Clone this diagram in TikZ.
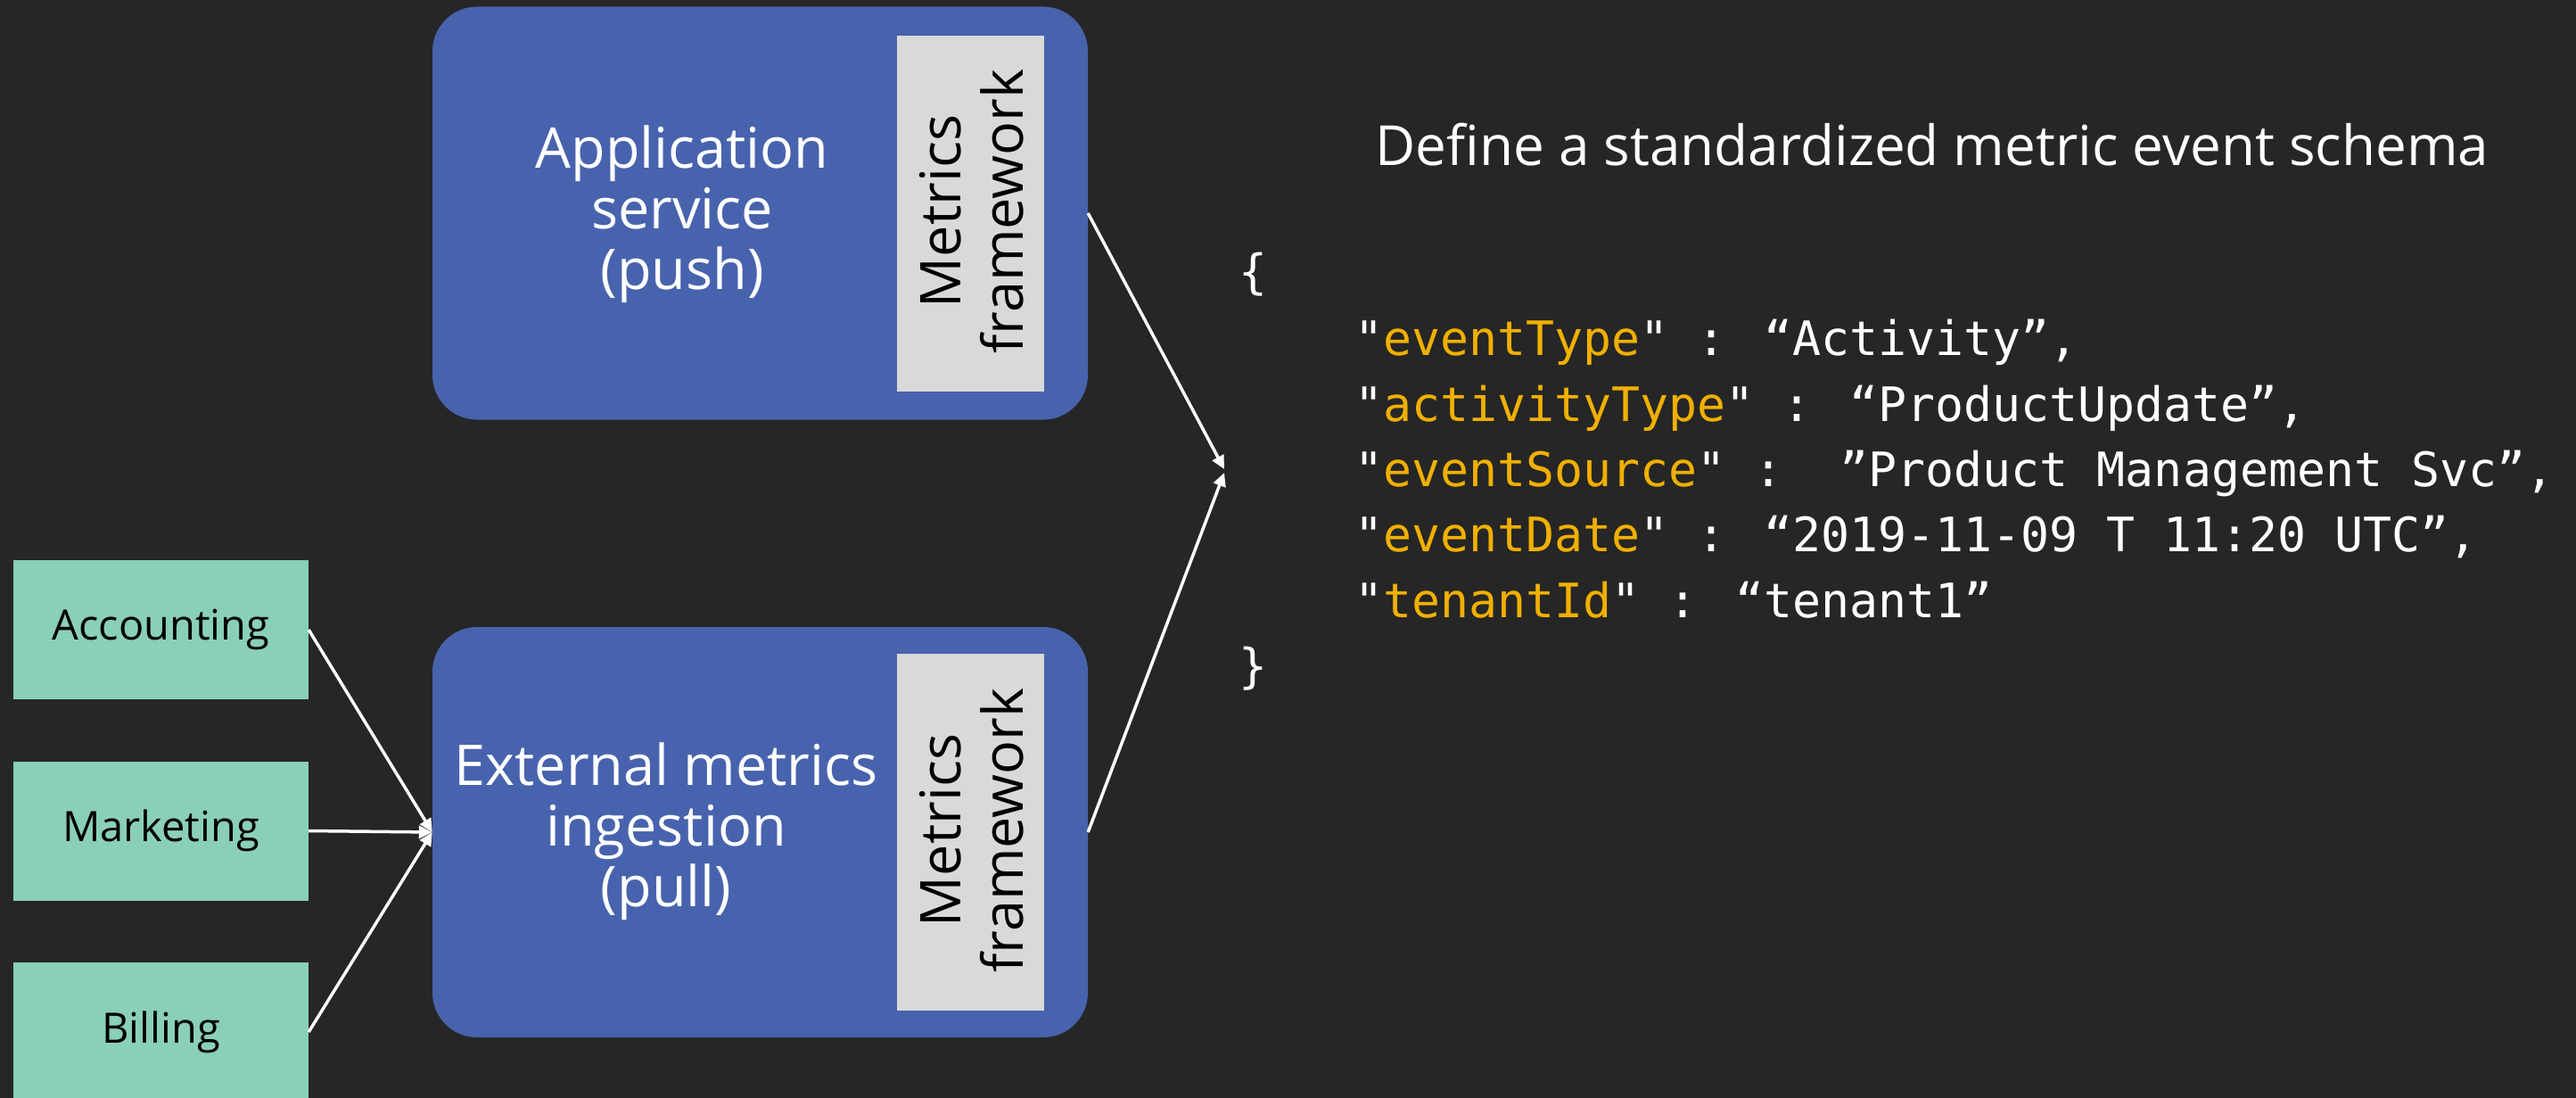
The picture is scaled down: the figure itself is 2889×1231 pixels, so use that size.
\documentclass[tikz,border=0pt]{standalone}
\usepackage{fontspec}
\setmainfont{Open Sans}
\newfontfamily\codefont{DejaVu Sans Mono}
\usetikzlibrary{arrows.meta}
\definecolor{bgdark}{HTML}{262626}
\definecolor{boxblue}{HTML}{4863AD}
\definecolor{srcgreen}{HTML}{8ACFB9}
\definecolor{panelgray}{HTML}{D9D9D9}
\definecolor{keyorange}{HTML}{F0B000}
\tikzset{
  bluebox/.style={fill=boxblue, rounded corners=50pt, inner sep=0pt, minimum width=735pt, minimum height=463pt},
  graypanel/.style={fill=panelgray, inner sep=0pt, minimum width=165pt, minimum height=399pt},
  paneltext/.style={rotate=90, align=center, text=black, inner sep=0pt, font=\fontsize{63}{70}\selectfont},
  srcbox/.style={fill=srcgreen, inner sep=0pt, minimum width=331pt, minimum height=156pt, text=black, font=\fontsize{47}{56}\selectfont},
  boxtext/.style={align=center, text=white, inner sep=0pt, font=\fontsize{63}{68}\selectfont},
  conn/.style={draw=white, line width=3.5pt, -{Triangle[length=15pt,width=14pt]}},
  codeline/.style={anchor=base west, inner sep=0pt, text=white, font=\codefont\fontsize{53.2}{60}\selectfont}
}
\newcommand{\kw}[1]{\textcolor{keyorange}{#1}}
\begin{document}
\begin{tikzpicture}[x=1pt, y=-1pt]
\fill[bgdark] (0,0) rectangle (2889,1231);
\useasboundingbox (0,0) rectangle (2889,1231);

% main boxes
\node[bluebox] (app) at (852.5,239) {};
\node[bluebox, minimum height=460pt] (ext) at (852.5,933) {};
\node[graypanel] (mfA) at (1088.5,239.5) {};
\node[graypanel, minimum height=400pt] (mfB) at (1088.5,933) {};
\node[paneltext] (mfAt) at (1090,237) {Metrics\\framework};
\node[paneltext] (mfBt) at (1090,931) {Metrics\\framework};
\node[boxtext] (appt) at (765,240) {Application\\service\\(push)};
\node[boxtext] (extt) at (747,932) {External metrics\\ingestion\\(pull)};

% source boxes
\node[srcbox] (acc) at (180.5,706) {Accounting};
\node[srcbox] (mkt) at (180.5,931.5) {Marketing};
\node[srcbox] (bil) at (180.5,1157) {Billing};

% connectors
\draw[conn] (acc.east) -- (ext.west);
\draw[conn] (mkt.east) -- (ext.west);
\draw[conn] (bil.east) -- (ext.west);
\coordinate (tipA) at (1373,526);
\coordinate (tipB) at (1373,530);
\draw[conn] (app.east) -- (tipA);
\draw[conn] (ext.east) -- (tipB);

% title
\node[anchor=base, inner sep=0pt, text=white, font=\fontsize{62}{70}\selectfont] (title) at (2167,185) {Define a standardized metric event schema};

% code
\node[codeline] (bro) at (1389,323) {\{};
\node[codeline] (l1) at (1519,398) {"\kw{eventType}" : “Activity”,};
\node[codeline] (l2) at (1519,472) {"\kw{activityType}" : “ProductUpdate”,};
\node[codeline] (l3) at (1519,545) {"\kw{eventSource}" :~~”Product Management Svc”,};
\node[codeline] (l4) at (1519,618) {"\kw{eventDate}" : “2019-11-09 T 11:20 UTC”,};
\node[codeline] (l5) at (1519,692) {"\kw{tenantId}" : “tenant1”};
\node[codeline] (brc) at (1389,765) {\}};
\end{tikzpicture}
\end{document}
